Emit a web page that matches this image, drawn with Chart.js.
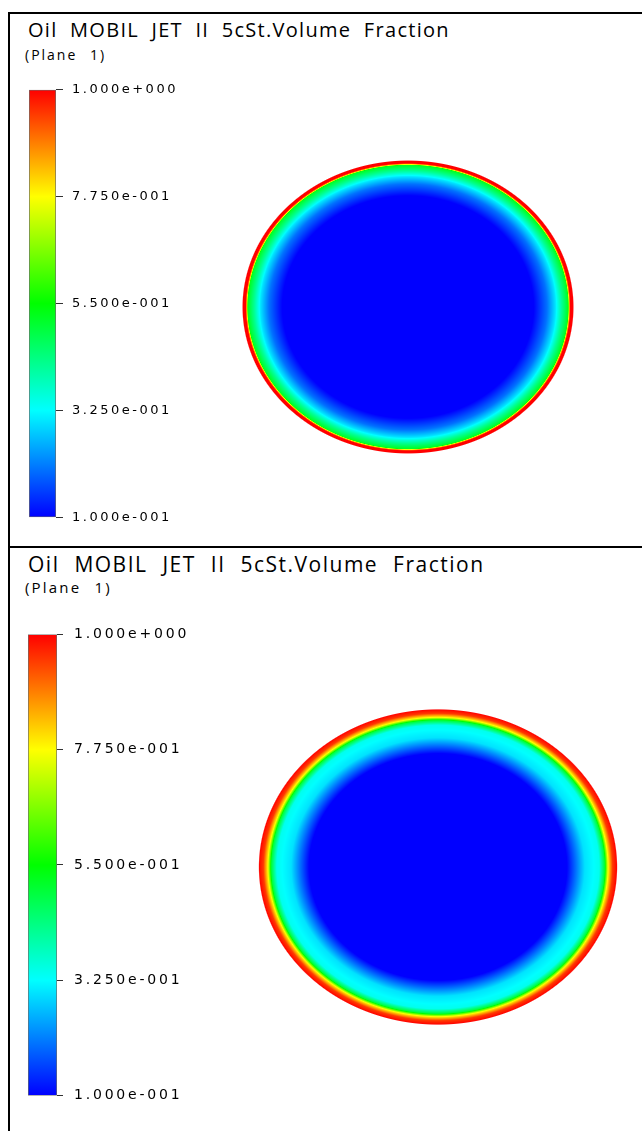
<!DOCTYPE html>
<html>
<head>
<meta charset="utf-8">
<title>Oil MOBIL JET II 5cSt.Volume Fraction</title>
<script src="https://cdn.jsdelivr.net/npm/chart.js@4.4.1/dist/chart.umd.min.js"></script>
<style>
  body { margin: 0; background: #fff; width: 642px; height: 1131px; overflow: hidden; position: relative; }
  .borda { position: absolute; left: 8px; width: 700px; }
  #borda1 { top: 12px; height: 532px; border-top: 2px solid #000; border-left: 2px solid #000; border-bottom: 2px solid #000; }
  #borda2 { top: 548px; height: 600px; border-left: 2px solid #000; }
  .titulo { position: absolute; white-space: nowrap; color: #000; font-family: "Open Sans", sans-serif; }
  canvas { position: absolute; }
</style>
</head>
<body>
<div class="borda" id="borda1"></div>
<div class="borda" id="borda2"></div>

<div class="titulo" style="left:28px;top:20px;font-size:20px;line-height:20px;letter-spacing:1.3px;word-spacing:6px">Oil MOBIL JET II 5cSt.Volume Fraction</div>
<div class="titulo" style="left:25px;top:48px;font-size:14px;line-height:14px;letter-spacing:2px;word-spacing:7px">(Plane 1)</div>
<canvas id="escala1" width="157" height="461" style="left:29px;top:73px"></canvas>
<canvas id="campo1" width="364" height="364" style="left:226px;top:125px"></canvas>

<div class="titulo" style="left:28px;top:554px;font-size:21px;line-height:21px;letter-spacing:1.5px;word-spacing:8px">Oil MOBIL JET II 5cSt.Volume Fraction</div>
<div class="titulo" style="left:25px;top:580px;font-size:15px;line-height:15px;letter-spacing:2.2px;word-spacing:7px">(Plane 1)</div>
<canvas id="escala2" width="169" height="500" style="left:28px;top:615px"></canvas>
<canvas id="campo2" width="394" height="394" style="left:241px;top:670px"></canvas>

<script>
// Escala de cores (fração volumétrica)
const ticksEscala = [0.1, 0.325, 0.55, 0.775, 1.0];
const coresEscala = [[0, 0, 255], [0, 255, 255], [0, 255, 0], [255, 255, 0], [255, 0, 0]];

// Perfis radiais (raio normalizado pela elipse -> fração de óleo)
const raio1   = [0, 0.76, 0.84, 0.89, 0.93, 0.968, 0.975, 0.982, 1.0];
const fracao1 = [0.1, 0.1, 0.2, 0.3, 0.42, 0.52, 0.85, 1.0, 1.0];
const raio2   = [0, 0.72, 0.78, 0.82, 0.9, 0.93, 0.95, 0.975, 1.0];
const fracao2 = [0.1, 0.1, 0.22, 0.3, 0.34, 0.5, 0.78, 0.95, 1.0];

// Semi-eixos da seção (x, y)
const eixos1 = [1, 0.885];
const eixos2 = [1, 0.88];

function cor(v) {
  if (v <= ticksEscala[0]) return coresEscala[0];
  for (let k = 1; k < ticksEscala.length; k++) {
    if (v <= ticksEscala[k]) {
      const t = (v - ticksEscala[k - 1]) / (ticksEscala[k] - ticksEscala[k - 1]);
      return coresEscala[k - 1].map((c, i) => c + (coresEscala[k][i] - c) * t);
    }
  }
  return coresEscala[coresEscala.length - 1];
}

function interp(r, xs, ys) {
  if (r <= xs[0]) return ys[0];
  for (let k = 1; k < xs.length; k++) {
    if (r <= xs[k]) {
      const t = (r - xs[k - 1]) / (xs[k] - xs[k - 1]);
      return ys[k - 1] + (ys[k] - ys[k - 1]) * t;
    }
  }
  return ys[ys.length - 1];
}

// 1.000e-001 no formato do CFX
function formatoCFX(v) {
  const [m, e] = v.toExponential(3).split('e');
  const n = parseInt(e, 10);
  return m + 'e' + (n < 0 ? '-' : '+') + String(Math.abs(n)).padStart(3, '0');
}

function criarEscala(id, tamFonte, espacamento, tickLen, pad, larguraEixo) {
  const espacoLetras = {
    id: 'espacoLetras',
    beforeDraw(chart) { chart.ctx.letterSpacing = espacamento + 'px'; }
  };
  const min = ticksEscala[0], max = ticksEscala[ticksEscala.length - 1];
  return new Chart(document.getElementById(id), {
    type: 'bar',
    data: {
      labels: [''],
      datasets: [{
        data: [[min, max]],
        barPercentage: 1,
        categoryPercentage: 1,
        borderWidth: 1,
        borderColor: 'rgba(70,70,70,0.8)',
        borderSkipped: false,
        backgroundColor: ctx => {
          const { chart } = ctx;
          if (!chart.chartArea) return '#00f';
          const y = chart.scales.y;
          const g = chart.ctx.createLinearGradient(0, y.getPixelForValue(min), 0, y.getPixelForValue(max));
          ticksEscala.forEach((v, i) => g.addColorStop((v - min) / (max - min), `rgb(${coresEscala[i].join(',')})`));
          return g;
        }
      }]
    },
    options: {
      responsive: false,
      animation: false,
      events: [],
      layout: { padding: { top: 10, bottom: 10, left: 0, right: 0 } },
      plugins: { legend: { display: false }, tooltip: { enabled: false } },
      scales: {
        x: { display: false },
        y: {
          position: 'right',
          min: min,
          max: max,
          afterBuildTicks: s => { s.ticks = ticksEscala.map(v => ({ value: v })); },
          afterFit: s => { s.width = larguraEixo; },
          grid: { drawOnChartArea: false, drawTicks: true, tickLength: tickLen, color: '#333', lineWidth: 1 },
          border: { display: false },
          ticks: {
            padding: pad,
            color: '#000',
            font: { family: 'DejaVu Sans', size: tamFonte },
            callback: v => formatoCFX(v)
          }
        }
      }
    },
    plugins: [espacoLetras]
  });
}

// Campo de fração volumétrica pintado célula a célula pelas escalas do gráfico
const campoPlugin = {
  id: 'campo',
  beforeDatasetsDraw(chart, args, opts) {
    const { ctx, chartArea: a, scales: { x, y } } = chart;
    const w = Math.round(a.right - a.left), h = Math.round(a.bottom - a.top);
    const off = document.createElement('canvas');
    off.width = w; off.height = h;
    const octx = off.getContext('2d');
    const img = octx.createImageData(w, h);
    const pxUnid = Math.abs(x.getPixelForValue(1) - x.getPixelForValue(0));
    const [ax, ay] = opts.eixos;
    for (let j = 0; j < h; j++) {
      const yv = y.getValueForPixel(a.top + j + 0.5);
      for (let i = 0; i < w; i++) {
        const xv = x.getValueForPixel(a.left + i + 0.5);
        const r = Math.hypot(xv / ax, yv / ay);
        const alfa = Math.max(0, Math.min(1, (1 - r) * ay * pxUnid + 0.5));
        if (alfa <= 0) continue;
        const c = cor(interp(Math.min(r, 1), opts.raio, opts.fracao));
        const p = (j * w + i) * 4;
        img.data[p] = c[0]; img.data[p + 1] = c[1]; img.data[p + 2] = c[2];
        img.data[p + 3] = Math.round(alfa * 255);
      }
    }
    octx.putImageData(img, 0, 0);
    ctx.drawImage(off, a.left, a.top);
  }
};

function criarCampo(id, raio, fracao, eixos) {
  return new Chart(document.getElementById(id), {
    type: 'scatter',
    data: { datasets: [{ data: [], pointRadius: 0 }] },
    options: {
      responsive: false,
      animation: false,
      events: [],
      layout: { padding: 0 },
      plugins: {
        legend: { display: false },
        tooltip: { enabled: false },
        campo: { raio, fracao, eixos }
      },
      scales: {
        x: { display: false, min: -1.1, max: 1.1 },
        y: { display: false, min: -1.1, max: 1.1 }
      }
    },
    plugins: [campoPlugin]
  });
}

criarEscala('escala1', 13, 2.5, 7, 9, 130);
criarCampo('campo1', raio1, fracao1, eixos1);
criarEscala('escala2', 14, 2.8, 6, 11, 140);
criarCampo('campo2', raio2, fracao2, eixos2);
</script>
</body>
</html>
